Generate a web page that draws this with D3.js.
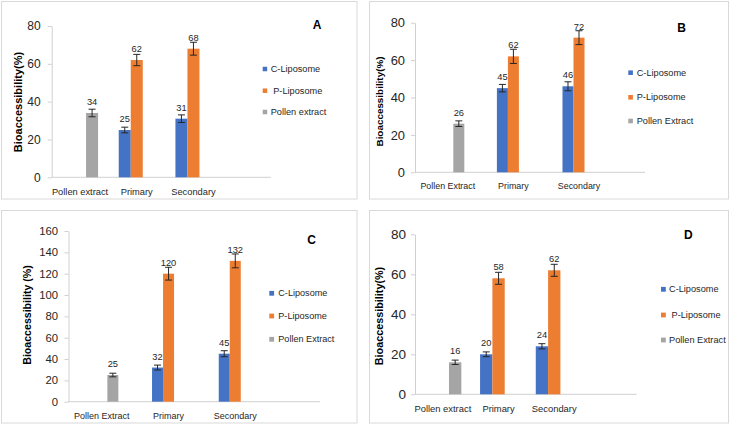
<!DOCTYPE html>
<html><head><meta charset="utf-8">
<script src="https://cdn.jsdelivr.net/npm/d3@7"></script>
<style>
body{margin:0;background:#fff}
svg{display:block}
text{font-family:"Liberation Sans",Arial,sans-serif}
</style>
</head><body>
<svg id="chart" width="731" height="425"></svg>
<script>
// ---------- DATA ----------
const seriesKeys = ["C", "P", "Pollen"];
const seriesColors = ["#4472C4", "#ED7D31", "#A5A5A5"];

// Panel A
const categoriesA = ["Pollen extract", "Primary", "Secondary"];
const legendA = ["C-Liposome", " P-Liposome", "Pollen extract"];
const cLipoA = [null, 25, 31];
const pLipoA = [null, 62, 68];
const pollenA = [34, null, null];
const cErrA = [null, 1.5, 2];
const pErrA = [null, 3, 3.4];
const pollenErrA = [2, null, null];
const ticksA = [0, 20, 40, 60, 80];
const titleA = "Bioaccessibility(%)";

// Panel B
const categoriesB = ["Pollen Extract", "Primary", "Secondary"];
const legendB = ["C-Liposome", "P-Liposome", "Pollen Extract"];
const cLipoB = [null, 45, 46];
const pLipoB = [null, 62, 72];
const pollenB = [26, null, null];
const cErrB = [null, 2, 2.4];
const pErrB = [null, 3.8, 3.7];
const pollenErrB = [1.5, null, null];
const ticksB = [0, 20, 40, 60, 80];
const titleB = "Bioaccessibility(%)";

// Panel C
const categoriesC = ["Pollen Extract", "Primary", "Secondary"];
const legendC = ["C-Liposome", "P-Liposome", "Pollen Extract"];
const cLipoC = [null, 32, 45];
const pLipoC = [null, 120, 132];
const pollenC = [25, null, null];
const cErrC = [null, 2.3, 2.8];
const pErrC = [null, 6, 6.5];
const pollenErrC = [1.7, null, null];
const ticksC = [0, 20, 40, 60, 80, 100, 120, 140, 160];
const titleC = "Bioaccessibility (%)";

// Panel D
const categoriesD = ["Pollen extract", "Primary", "Secondary"];
const legendD = ["C-Liposome", " P-Liposome", "Pollen Extract"];
const cLipoD = [null, 20, 24];
const pLipoD = [null, 58, 62];
const pollenD = [16, null, null];
const cErrD = [null, 1.2, 1.3];
const pErrD = [null, 3, 3];
const pollenErrD = [1.1, null, null];
const ticksD = [0, 20, 40, 60, 80];
const titleD = "Bioaccessibility(%)";

const panelLetters = ["A", "B", "C", "D"];

// ---------- LAYOUT ----------
const layouts = [
  {frame:[1.5,1.5,355.5,197.5], x0:51.7, cw:56.7, axisEnd:270.7, yB:177.3, yT:26, pad:0.86,
   tickFs:12, tickPad:7, catFs:9.3, catDy:14.4, titleFs:11, titleX:17.7, titleY:102,
   letterX:317, letterY:25, legX:262.7, legSq:4.5, legTextX:270.7, legY:[69,90.7,112], legFs:9.2},
  {frame:[369.5,1.5,359,197.5], x0:415, cw:65.6, axisEnd:645, yB:172.3, yT:22.7, pad:1.48,
   tickFs:12.9, tickPad:6, catFs:8.9, catDy:13.3, titleFs:9.9, titleX:379.7, titleY:101.5,
   letterX:681.7, letterY:28.3, legX:628.3, legSq:4.6, legTextX:636.7, legY:[72.7,97.3,121], legFs:9.2},
  {frame:[1.5,210.5,355.5,212.5], x0:68.5, cw:66.7, axisEnd:320, yB:401.7, yT:231, pad:1.53,
   tickFs:11.3, tickPad:6.5, catFs:9, catDy:14, titleFs:10.6, titleX:26.7, titleY:315,
   letterX:311.7, letterY:240, legX:269.3, legSq:4.8, legTextX:278.3, legY:[293.3,316,339.3], legFs:9.1},
  {frame:[369.5,210.5,359,212.5], x0:415, cw:55.7, axisEnd:636.7, yB:394.3, yT:234.3, pad:0.76,
   tickFs:13.5, tickPad:5, catFs:9.4, catDy:14, titleFs:10.8, titleX:379.3, titleY:316,
   letterX:688.3, letterY:235, legX:661, legSq:4.8, legTextX:669, legY:[289.3,315,340], legFs:9.2}
];

const panels = [
  {cats:categoriesA, legend:legendA, vals:[cLipoA,pLipoA,pollenA], errs:[cErrA,pErrA,pollenErrA], ticks:ticksA, title:titleA},
  {cats:categoriesB, legend:legendB, vals:[cLipoB,pLipoB,pollenB], errs:[cErrB,pErrB,pollenErrB], ticks:ticksB, title:titleB},
  {cats:categoriesC, legend:legendC, vals:[cLipoC,pLipoC,pollenC], errs:[cErrC,pErrC,pollenErrC], ticks:ticksC, title:titleC},
  {cats:categoriesD, legend:legendD, vals:[cLipoD,pLipoD,pollenD], errs:[cErrD,pErrD,pollenErrD], ticks:ticksD, title:titleD}
];

const svg = d3.select("#chart");

panels.forEach((p, i) => {
  const L = layouts[i];
  const g = svg.append("g");

  g.append("rect")
    .attr("x", L.frame[0]).attr("y", L.frame[1])
    .attr("width", L.frame[2]).attr("height", L.frame[3])
    .attr("fill", "#fff").attr("stroke", "#d9d9d9").attr("stroke-width", 1);

  const x = d3.scaleBand().domain(p.cats).range([L.x0, L.x0 + 3 * L.cw]).padding(0);
  const xs = d3.scaleBand().domain(seriesKeys).range([0, L.cw]).paddingInner(0).paddingOuter(L.pad);
  const ymax = p.ticks[p.ticks.length - 1];
  const y = d3.scaleLinear().domain([0, ymax]).range([L.yB, L.yT]);

  // Y axis
  const ya = g.append("g").attr("transform", `translate(${L.x0},0)`)
    .call(d3.axisLeft(y).tickValues(p.ticks).tickSize(4).tickSizeOuter(0).tickPadding(L.tickPad));
  ya.select(".domain").attr("stroke", "#d0d0d0");
  ya.selectAll(".tick line").attr("stroke", "#d0d0d0");
  ya.selectAll(".tick text").attr("font-size", L.tickFs).attr("fill", "#262626")
    .style("font-family", '"Liberation Sans",Arial,sans-serif');

  // X axis line
  g.append("line")
    .attr("x1", L.x0).attr("x2", L.axisEnd)
    .attr("y1", y(0)).attr("y2", y(0))
    .attr("stroke", "#d0d0d0").attr("stroke-width", 1);

  // Category labels
  g.selectAll("text.cat").data(p.cats).join("text")
    .attr("class", "cat")
    .attr("x", d => x(d) + x.bandwidth() / 2)
    .attr("y", y(0) + L.catDy)
    .attr("dominant-baseline", "central")
    .attr("text-anchor", "middle")
    .attr("font-size", L.catFs).attr("fill", "#262626")
    .text(d => d);

  // Bars, error bars, labels
  seriesKeys.forEach((s, si) => {
    const recs = p.cats.map((c, ci) => ({c, v: p.vals[si][ci], e: p.errs[si][ci]}))
      .filter(d => d.v !== null);
    const cx = d => x(d.c) + xs(s) + xs.bandwidth() / 2;
    g.selectAll(null).data(recs).join("rect")
      .attr("x", d => x(d.c) + xs(s))
      .attr("y", d => y(d.v))
      .attr("width", xs.bandwidth())
      .attr("height", d => y(0) - y(d.v))
      .attr("fill", seriesColors[si]);
    g.selectAll(null).data(recs).join("path")
      .attr("d", d => {
        const t = y(d.v + d.e), b = y(d.v - d.e), xc = cx(d);
        return `M${xc},${t}V${b}M${xc - 3.5},${t}H${xc + 3.5}M${xc - 3.5},${b}H${xc + 3.5}`;
      })
      .attr("stroke", "#262626").attr("stroke-width", 1).attr("fill", "none");
    g.selectAll(null).data(recs).join("text")
      .attr("x", cx)
      .attr("y", d => y(d.v) - 11)
      .attr("dominant-baseline", "central")
      .attr("text-anchor", "middle")
      .attr("font-size", 9.3).attr("fill", "#262626")
      .text(d => d.v);
  });

  // Y title
  g.append("text")
    .attr("transform", `translate(${L.titleX},${L.titleY}) rotate(-90)`)
    .attr("text-anchor", "middle")
    .attr("dominant-baseline", "central")
    .attr("font-size", L.titleFs).attr("font-weight", "bold").attr("fill", "#000")
    .text(p.title);

  // Panel letter
  g.append("text")
    .attr("x", L.letterX).attr("y", L.letterY)
    .attr("text-anchor", "middle").attr("dominant-baseline", "central")
    .attr("font-size", 12).attr("font-weight", "bold").attr("fill", "#000")
    .text(panelLetters[i]);

  // Legend
  p.legend.forEach((name, li) => {
    g.append("rect")
      .attr("x", L.legX).attr("y", L.legY[li] - L.legSq / 2)
      .attr("width", L.legSq).attr("height", L.legSq)
      .attr("fill", seriesColors[li]);
    g.append("text")
      .attr("x", L.legTextX).attr("y", L.legY[li])
      .attr("dominant-baseline", "central")
      .attr("font-size", L.legFs).attr("fill", "#262626")
      .style("white-space", "pre")
      .text(name);
  });
});
</script>
</body></html>
